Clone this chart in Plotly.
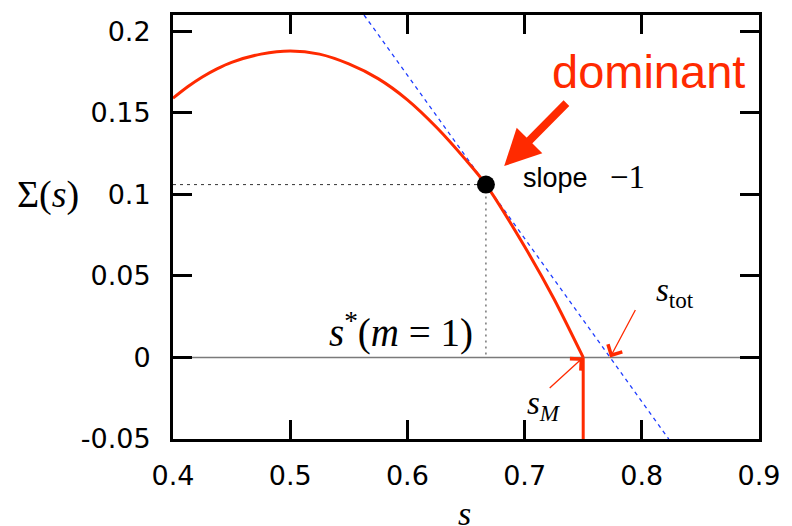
import plotly.graph_objects as go

s_vals = [0.40, 0.4125, 0.425, 0.4375, 0.45, 0.475, 0.50, 0.525, 0.55, 0.575, 0.60, 0.625, 0.65, 0.667, 0.70, 0.725, 0.75]
sigma_vals = [0.159, 0.166, 0.172, 0.177, 0.181, 0.186, 0.188, 0.186, 0.180, 0.171, 0.158, 0.141, 0.121, 0.106, 0.068, 0.036, 0.0]

# Dominant point (slope -1) and the edge of the curve
s_star = 0.667
sigma_star = 0.106
s_M = 0.75
tangent_slope = -1.0

x_ticks = [0.4, 0.5, 0.6, 0.7, 0.8, 0.9]
x_tick_text = ["0.4", "0.5", "0.6", "0.7", "0.8", "0.9"]
y_ticks = [-0.05, 0.0, 0.05, 0.1, 0.15, 0.2]
y_tick_text = ["-0.05", "0", "0.05", "0.1", "0.15", "0.2"]

x_range = [0.4, 0.9]
y_range = [-0.05, 0.21]

RED = "#ff2a00"
BLUE = "#1f3dff"
SERIF = "Liberation Serif"
SANS = "Liberation Sans"

# tangent line through the dominant point, spanning the y range
tan_y = [y_range[1], y_range[0]]
tan_x = [s_star + (y - sigma_star) / tangent_slope for y in tan_y]
s_tot = s_star - sigma_star / tangent_slope

fig = go.Figure()

# zero line
fig.add_trace(go.Scatter(x=x_range, y=[0, 0], mode="lines",
                         line=dict(color="#7a7a7a", width=1.5), hoverinfo="skip"))
# dotted guides to the dominant point
fig.add_trace(go.Scatter(x=[x_range[0], s_star], y=[sigma_star, sigma_star], mode="lines",
                         line=dict(color="#333333", width=1, dash="3px,4px"), hoverinfo="skip"))
fig.add_trace(go.Scatter(x=[s_star, s_star], y=[sigma_star, 0], mode="lines",
                         line=dict(color="#555555", width=1.2, dash="2px,4px"), hoverinfo="skip"))
# tangent of slope -1
fig.add_trace(go.Scatter(x=tan_x, y=tan_y, mode="lines",
                         line=dict(color=BLUE, width=1.3, dash="4px,4px"), hoverinfo="skip"))
# Sigma(s)
fig.add_trace(go.Scatter(x=s_vals, y=sigma_vals, mode="lines",
                         line=dict(color=RED, width=3, shape="spline", smoothing=0.8), hoverinfo="skip"))
# vertical drop at s_M
fig.add_trace(go.Scatter(x=[s_M, s_M], y=[0, y_range[0]], mode="lines",
                         line=dict(color=RED, width=3), hoverinfo="skip"))
# dominant point
fig.add_trace(go.Scatter(x=[s_star], y=[sigma_star], mode="markers",
                         marker=dict(color="black", size=18), hoverinfo="skip"))

annotations = [
    # big arrow to the dominant point
    dict(x=s_star, y=sigma_star, xref="x", yref="y", ax=82, ay=-83, text="",
         showarrow=True, arrowhead=2, arrowsize=0.9, arrowwidth=8, arrowcolor=RED, standoff=26),
    dict(x=0.8115, y=0.866, xref="paper", yref="paper", text="dominant", showarrow=False,
         font=dict(family=SANS, size=47, color=RED), xanchor="center", yanchor="middle"),
    dict(x=0.594, y=0.616, xref="paper", yref="paper", text="slope", showarrow=False,
         font=dict(family=SANS, size=27, color="black"), xanchor="left", yanchor="middle"),
    dict(x=0.743, y=0.618, xref="paper", yref="paper", text="\u22121", showarrow=False,
         font=dict(family=SERIF, size=33, color="black"), xanchor="left", yanchor="middle"),
    dict(x=0.5158, y=0.255, xref="paper", yref="paper",
         text="<i>s</i><sup>*</sup>(<i>m</i> = 1)", showarrow=False,
         font=dict(family=SERIF, size=39, color="black"), xanchor="right", yanchor="middle"),
    # s_tot and s_M pointers
    dict(x=s_tot, y=0, xref="x", yref="y", ax=26, ay=-49, text="", showarrow=True,
         arrowhead=4, arrowsize=2.4, arrowwidth=1.3, arrowcolor=RED),
    dict(x=0.821, y=0.345, xref="paper", yref="paper", text="<i>s</i><sub>tot</sub>",
         showarrow=False, font=dict(family=SERIF, size=33, color="black"),
         xanchor="left", yanchor="middle"),
    dict(x=s_M, y=0, xref="x", yref="y", ax=-35, ay=32, text="", showarrow=True,
         arrowhead=4, arrowsize=2.4, arrowwidth=1.3, arrowcolor=RED),
    dict(x=0.600, y=0.078, xref="paper", yref="paper", text="<i>s<sub>M</sub></i>",
         showarrow=False, font=dict(family=SERIF, size=33, color="black"),
         xanchor="left", yanchor="middle"),
    # axis titles
    dict(x=-0.213, y=0.576, xref="paper", yref="paper", text="\u03a3(<i>s</i>)",
         showarrow=False, font=dict(family=SERIF, size=38, color="black"),
         xanchor="center", yanchor="middle"),
    dict(x=0.497, y=-0.176, xref="paper", yref="paper", text="<i>s</i>",
         showarrow=False, font=dict(family=SERIF, size=34, color="black"),
         xanchor="center", yanchor="middle"),
]

axis_common = dict(showgrid=False, zeroline=False, showline=True, linecolor="black",
                   linewidth=3, mirror="allticks", ticks="inside", ticklen=19,
                   tickwidth=3, tickcolor="black",
                   tickfont=dict(family="DejaVu Sans", size=27, color="black"))

fig.update_layout(
    width=792, height=526,
    margin=dict(l=173, r=29, t=15, b=87),
    paper_bgcolor="white", plot_bgcolor="white",
    showlegend=False,
    xaxis=dict(range=x_range, tickvals=x_ticks, ticktext=x_tick_text,
               ticklabelstandoff=11, **axis_common),
    yaxis=dict(range=y_range, tickvals=y_ticks, ticktext=y_tick_text,
               ticklabelstandoff=14, **axis_common),
    annotations=annotations,
)

fig.write_html("out.html")
